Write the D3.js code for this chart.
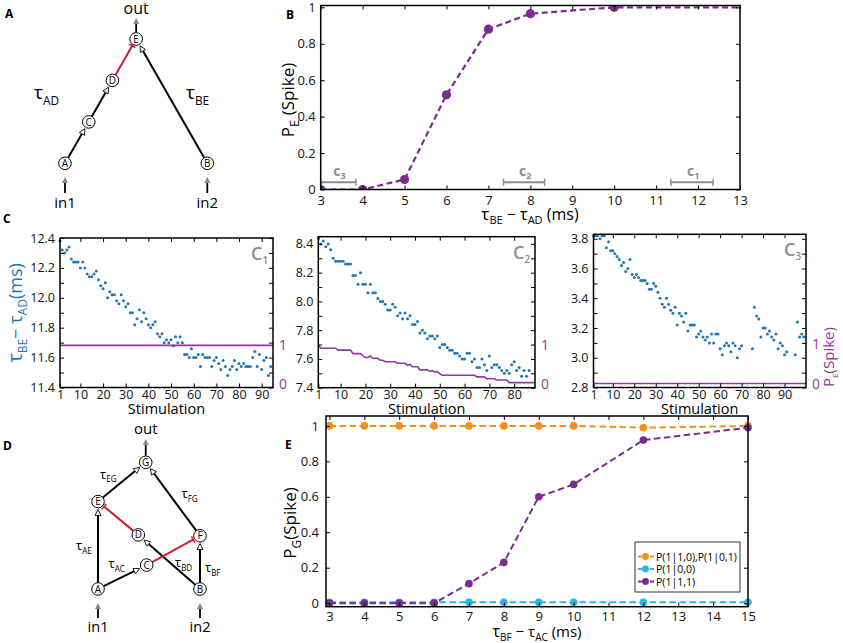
<!DOCTYPE html>
<html>
<head>
<meta charset="utf-8">
<script src="https://cdn.jsdelivr.net/npm/d3@7"></script>
<style>
  body { margin: 0; background: #fff; }
  svg text { font-family: "Open Sans", sans-serif; }
</style>
</head>
<body>
<div id="fig"></div>
<script>
// ---- panel B: P_E(spike) against delay difference
const bDelay = [3, 4, 5, 6, 7, 8, 10, 14];
const bProb = [0.0, 0.0, 0.055, 0.52, 0.88, 0.965, 1.0, 1.0];
const bBracketName = ["3", "2", "1"];
const bBracketFrom = [3.0, 7.36, 11.35];
const bBracketTo = [3.84, 8.34, 12.36];
const bXTicks = [3, 4, 5, 6, 7, 8, 9, 10, 11, 12, 13];
const bYTicks = [0, 0.2, 0.4, 0.6, 0.8, 1];

// ---- panel C: delay difference per stimulation (blue) and P_E (purple)
const c1Delay = [12.38,12.32,12.30,12.32,12.34,12.26,12.24,12.24,12.24,12.20,
  12.24,12.20,12.16,12.14,12.14,12.16,12.18,12.12,12.08,12.06,
  12.10,12.00,12.04,12.02,12.02,11.98,11.96,12.02,11.98,11.94,
  11.96,11.90,11.90,11.82,11.86,11.92,11.84,11.90,11.86,11.82,
  11.80,11.82,11.84,11.76,11.74,11.76,11.70,11.72,11.70,11.72,
  11.68,11.74,11.70,11.74,11.70,11.62,11.62,11.60,11.66,11.60,
  11.60,11.62,11.54,11.62,11.60,11.60,11.60,11.54,11.58,11.60,
  11.56,11.52,11.58,11.54,11.48,11.52,11.54,11.58,11.52,11.56,
  11.54,11.56,11.54,11.54,11.54,11.60,11.64,11.54,11.62,11.52,
  11.58,11.60,11.48,11.54];
const c1ProbStim = [1, 95];
const c1Prob = [1, 1];

const c2Delay = [8.44,8.40,8.42,8.38,8.40,8.36,8.30,8.28,8.28,8.28,
  8.28,8.26,8.26,8.26,8.18,8.18,8.12,8.20,8.12,8.12,
  8.06,8.12,8.06,8.06,8.02,8.00,8.00,7.98,7.94,7.94,
  7.98,7.96,7.90,7.92,7.88,7.92,7.88,7.90,7.84,7.84,
  7.86,7.78,7.80,7.78,7.74,7.76,7.76,7.74,7.76,7.68,
  7.70,7.70,7.68,7.66,7.66,7.64,7.64,7.62,7.60,7.60,
  7.64,7.64,7.58,7.60,7.54,7.54,7.60,7.56,7.52,7.62,
  7.54,7.56,7.56,7.54,7.52,7.50,7.52,7.50,7.56,7.58,
  7.52,7.54,7.48,7.52,7.48,7.52];
// one value per stimulation 1..88
const c2Prob = [1.00,0.92,0.92,0.92,0.92,0.92,0.92,0.92,0.87,0.87,
  0.87,0.87,0.87,0.87,0.78,0.78,0.78,0.78,0.72,0.68,
  0.68,0.72,0.66,0.66,0.66,0.61,0.61,0.57,0.57,0.57,
  0.57,0.57,0.53,0.53,0.53,0.53,0.48,0.50,0.44,0.44,
  0.44,0.36,0.36,0.36,0.36,0.32,0.34,0.30,0.32,0.26,
  0.22,0.22,0.22,0.22,0.22,0.22,0.22,0.22,0.22,0.22,
  0.22,0.22,0.22,0.22,0.18,0.18,0.18,0.18,0.13,0.13,
  0.13,0.13,0.10,0.10,0.10,0.10,0.10,0.03,0.03,0.03,
  0.03,0.03,0.03,0.03,0.03,0.03,0.03,0.03];

const c3Delay = [3.82,3.82,3.82,3.80,3.82,3.82,3.74,3.78,3.72,3.72,
  3.70,3.68,3.66,3.62,3.64,3.58,3.60,3.66,3.56,3.54,
  3.56,3.54,3.52,3.52,3.52,3.50,3.46,3.46,3.50,3.48,
  3.44,3.40,3.36,3.34,3.40,3.36,3.32,3.30,3.34,3.22,
  3.30,3.28,3.24,3.30,3.18,3.22,3.22,3.22,3.14,3.16,
  3.18,3.14,3.12,3.14,3.10,3.16,3.10,3.16,3.16,3.06,
  3.02,3.08,3.10,3.08,3.04,3.10,3.08,3.00,3.06,3.08,
  null,null,null,null,3.06,3.34,3.28,3.26,3.14,3.20,
  3.20,3.16,3.18,3.14,3.12,3.16,3.06,3.10,3.08,3.02,
  3.04,null,null,null,3.02,3.24,3.14,3.16,3.14];
const c3ProbStim = [1, 100];
const c3Prob = [0, 0];

const cStimTicks = [1, 10, 20, 30, 40, 50, 60, 70, 80, 90];

// ---- panel E: P_G(spike) for the three input patterns
const eDelay = [3, 4, 5, 6, 7, 8, 9, 10, 12, 15];
const eOne = [1, 1, 1, 1, 1, 1, 1, 1, 0.99, 1.0];
const eNone = [0.005, 0.005, 0.005, 0.005, 0.005, 0.005, 0.005, 0.005, 0.005, 0.005];
const eBoth = [0, 0, 0, 0, 0.11, 0.23, 0.60, 0.67, 0.92, 0.99];
const eNames = ["P(1|1,0),P(1|0,1)", "P(1|0,0)", "P(1|1,1)"];
const eXTicks = [3, 4, 5, 6, 7, 8, 9, 10, 11, 12, 13, 14, 15];

const PURPLE = "#7b2d8e";
const ORANGE = "#f5901f";
const CYAN = "#2bb4e2";
const BLUE = "#1f77b4";
const LINEPURPLE = "#8e3a9f";
const RED = "#cc1f2f";
const GREY = "#8c8c8c";

const svg = d3.select("#fig").append("svg")
    .attr("width", 843)
    .attr("height", 643);

// text with subscript pieces: {t, s (size), dy (offset)}
function rich(sel, parts, size) {
    let shift = 0;
    parts.forEach(p => {
        const ts = sel.append("tspan").text(p.t).attr("font-size", p.s || size);
        const off = (p.dy || 0) - shift;
        if (off) ts.attr("dy", off);
        shift = p.dy || 0;
    });
    return sel;
}

// boxed plot with inward ticks on all four sides
function frame(g, x, y, o) {
    const [xl, xr] = x.range();
    const [yb, yt] = y.range();
    const [d0, d1] = x.domain();
    const xTicks = o.xTicks.filter(t => t >= d0 && t <= d1);
    const ax = g.append("g");
    ax.append("g").attr("transform", `translate(0,${yb})`)
        .call(d3.axisBottom(x).tickValues(xTicks).tickSize(-4).tickPadding(o.xPad)
            .tickFormat(o.xFormat || d3.format("d")));
    ax.append("g").attr("transform", `translate(0,${yt})`)
        .call(d3.axisTop(x).tickValues(xTicks).tickSize(-4).tickFormat(""));
    ax.append("g").attr("transform", `translate(${xl},0)`)
        .call(d3.axisLeft(y).tickValues(o.yTicks).tickSize(-4).tickPadding(o.yPad)
            .tickFormat(o.yFormat));
    ax.append("g").attr("transform", `translate(${xr},0)`)
        .call(d3.axisRight(y).tickValues(o.yTicks).tickSize(-4).tickFormat(""));
    ax.selectAll(".domain").remove();
    ax.selectAll("line").attr("stroke", "#000").attr("stroke-width", 1);
    ax.selectAll("text")
        .attr("font-family", "'Open Sans', sans-serif")
        .attr("font-size", o.fontSize)
        .attr("fill", "#111");
    g.append("rect")
        .attr("x", xl).attr("y", yt)
        .attr("width", xr - xl).attr("height", yb - yt)
        .attr("fill", "none")
        .attr("stroke", "#000")
        .attr("stroke-width", 1.5);
}

function panelLetter(txt, x, y) {
    svg.append("text").attr("x", x).attr("y", y).text(txt)
        .attr("font-family", "'Liberation Sans', Arial, sans-serif")
        .attr("font-weight", "bold").attr("font-size", 12);
}

// ---------------- Panel B ----------------
{
    const x = d3.scaleLinear().domain([3, 13]).range([320.7, 740]);
    const y = d3.scaleLinear().domain([0, 1.01]).range([189.5, 5.5]);
    const g = svg.append("g");

    svg.append("clipPath").attr("id", "clipB")
        .append("rect").attr("x", 320.7).attr("y", 5.5).attr("width", 419.3).attr("height", 184);

    // gray brackets with c labels
    const br = g.selectAll(".bracket").data(bBracketName).enter().append("g");
    br.append("line")
        .attr("x1", (d, i) => x(bBracketFrom[i])).attr("x2", (d, i) => x(bBracketTo[i]))
        .attr("y1", y(0.04)).attr("y2", y(0.04))
        .attr("stroke", GREY).attr("stroke-width", 2);
    br.append("line")
        .attr("x1", (d, i) => x(bBracketFrom[i])).attr("x2", (d, i) => x(bBracketFrom[i]))
        .attr("y1", y(0.04) - 3.5).attr("y2", y(0.04) + 3.5)
        .attr("stroke", GREY).attr("stroke-width", 1.5);
    br.append("line")
        .attr("x1", (d, i) => x(bBracketTo[i])).attr("x2", (d, i) => x(bBracketTo[i]))
        .attr("y1", y(0.04) - 3.5).attr("y2", y(0.04) + 3.5)
        .attr("stroke", GREY).attr("stroke-width", 1.5);
    br.each(function (d, i) {
        const t = d3.select(this).append("text")
            .attr("x", (x(bBracketFrom[i]) + x(bBracketTo[i])) / 2 - 5)
            .attr("y", y(0.04) - 6)
            .attr("fill", GREY).attr("font-weight", "bold");
        rich(t, [{ t: "c" }, { t: d, s: 9, dy: 3 }], 14);
    });

    const plot = g.append("g").attr("clip-path", "url(#clipB)");
    plot.append("path")
        .datum(bDelay.map((d, i) => [d, bProb[i]]))
        .attr("d", d3.line().x(d => x(d[0])).y(d => y(d[1])))
        .attr("fill", "none").attr("stroke", PURPLE)
        .attr("stroke-width", 2.2).attr("stroke-dasharray", "6,3.5");
    plot.selectAll("circle").data(bDelay).enter().append("circle")
        .attr("cx", d => x(d)).attr("cy", (d, i) => y(bProb[i]))
        .attr("r", 4.6).attr("fill", PURPLE);

    frame(g, x, y, {
        xTicks: bXTicks, yTicks: bYTicks, xPad: 6, yPad: 5, fontSize: 13,
        yFormat: d3.format("~g")
    });

    const yl = g.append("text")
        .attr("transform", "translate(294,100) rotate(-90)")
        .attr("text-anchor", "middle");
    rich(yl, [{ t: "P" }, { t: "E", s: 13, dy: 5 }, { t: " (Spike)" }], 17);

    const xl = g.append("text").attr("x", 530).attr("y", 220).attr("text-anchor", "middle");
    rich(xl, [{ t: "τ", s: 17 }, { t: "BE", s: 11, dy: 4 }, { t: " − τ", s: 16 },
        { t: "AD", s: 11, dy: 4 }, { t: " (ms)", s: 16 }], 16);

    panelLetter("B", 286, 19);
}

// ---------------- Panel C ----------------
function stimPanel(o) {
    const g = svg.append("g");
    const x = d3.scaleLinear().domain(o.xDomain).range(o.xRange);
    const y = d3.scaleLinear().domain(o.yDomain).range(o.yRange);
    // right-hand P_E scale shares the plot box
    const yp = d3.scaleLinear().domain([-0.1, 3.8]).range(o.yRange);

    const pts = o.delay.map((d, i) => [i + 1, d]).filter(d => d[1] !== null);
    g.selectAll("circle.dot").data(pts).enter().append("circle")
        .attr("class", "dot")
        .attr("cx", d => x(d[0])).attr("cy", d => y(d[1]))
        .attr("r", 1.5).attr("fill", BLUE);

    const stims = o.probStim || o.prob.map((p, i) => i + 1);
    g.append("path")
        .datum(stims.map((s, i) => [s, o.prob[i]]))
        .attr("d", d3.line().x(d => x(d[0])).y(d => yp(d[1])))
        .attr("fill", "none").attr("stroke", LINEPURPLE).attr("stroke-width", 1.6);

    const yTicks = d3.range(0, 11).map(k => +(o.yDomain[0] + k * 0.1).toFixed(1));
    frame(g, x, y, {
        xTicks: cStimTicks, yTicks: yTicks, xPad: 2.5, yPad: 5, fontSize: 12.5,
        yFormat: d => (Math.round(d * 10) % 2 === 0 ? d3.format(".1f")(d) : "")
    });

    const r = g.append("g").attr("transform", `translate(${o.xRange[1]},0)`)
        .call(d3.axisRight(yp).tickValues([0, 1]).tickSize(0).tickPadding(6).tickFormat(d3.format("d")));
    r.select(".domain").remove();
    r.selectAll("text").attr("fill", LINEPURPLE).attr("font-size", 14)
        .attr("font-family", "'Open Sans', sans-serif");

    const tt = g.append("text")
        .attr("x", o.xRange[1] - 22).attr("y", o.yRange[1] + 22)
        .attr("fill", GREY).attr("font-weight", 600);
    rich(tt, [{ t: "C" }, { t: o.name, s: 10, dy: 4 }], 18);

    g.append("text")
        .attr("x", (o.xRange[0] + o.xRange[1]) / 2).attr("y", 413.5)
        .attr("text-anchor", "middle").attr("font-size", 14.5)
        .text("Stimulation");
}

stimPanel({
    name: "1", delay: c1Delay, probStim: c1ProbStim, prob: c1Prob,
    xDomain: [1, 95], xRange: [60, 273], yDomain: [11.4, 12.4], yRange: [387.5, 238]
});
stimPanel({
    name: "2", delay: c2Delay, probStim: null, prob: c2Prob,
    xDomain: [1, 88.4], xRange: [318.3, 535], yDomain: [7.4, 8.45], yRange: [387.7, 236.7]
});
stimPanel({
    name: "3", delay: c3Delay, probStim: c3ProbStim, prob: c3Prob,
    xDomain: [1, 100], xRange: [593.5, 806], yDomain: [2.8, 3.83], yRange: [387.5, 234.3]
});

{
    const yl = svg.append("text")
        .attr("transform", "translate(22,313) rotate(-90)")
        .attr("text-anchor", "middle").attr("fill", BLUE);
    rich(yl, [{ t: "τ", s: 20 }, { t: "BE", s: 12, dy: 5 }, { t: "− τ", s: 18 },
        { t: "AD", s: 12, dy: 5 }, { t: "(ms)", s: 18 }], 18);

    const yr = svg.append("text")
        .attr("transform", "translate(834,357) rotate(-90)")
        .attr("text-anchor", "middle").attr("fill", LINEPURPLE);
    rich(yr, [{ t: "P", s: 15 }, { t: "E", s: 8, dy: 4 }, { t: "(Spike)", s: 15 }], 15);

    panelLetter("C", 3, 223);
}

// ---------------- Panel E ----------------
{
    const x = d3.scaleLinear().domain([2.9, 15]).range([326, 748]);
    const y = d3.scaleLinear().domain([-0.02, 1.056]).range([606.7, 416]);
    const g = svg.append("g");
    const series = [eOne, eNone, eBoth];
    const colors = [ORANGE, CYAN, PURPLE];

    series.forEach((vals, k) => {
        g.append("path")
            .datum(eDelay.map((d, i) => [d, vals[i]]))
            .attr("d", d3.line().x(d => x(d[0])).y(d => y(d[1])))
            .attr("fill", "none").attr("stroke", colors[k])
            .attr("stroke-width", 2).attr("stroke-dasharray", "6.5,3.5");
        g.selectAll(".m" + k).data(eDelay).enter().append("circle")
            .attr("cx", d => x(d)).attr("cy", (d, i) => y(vals[i]))
            .attr("r", 3.8).attr("fill", colors[k]);
    });

    frame(g, x, y, {
        xTicks: eXTicks, yTicks: bYTicks, xPad: 5, yPad: 7, fontSize: 13,
        yFormat: d3.format("~g")
    });

    // legend
    const lg = g.append("g").attr("transform", "translate(635,542)");
    lg.append("rect").attr("width", 105).attr("height", 50)
        .attr("fill", "#fff").attr("stroke", "#333").attr("stroke-width", 1);
    const item = lg.selectAll(".item").data(eNames).enter().append("g")
        .attr("transform", (d, i) => `translate(0,${14.5 + i * 12.5})`);
    item.append("line").attr("x1", 3).attr("x2", 19)
        .attr("stroke", (d, i) => colors[i]).attr("stroke-width", 2)
        .attr("stroke-dasharray", "4,2");
    item.append("circle").attr("cx", 10.5).attr("r", 3.4).attr("fill", (d, i) => colors[i]);
    item.append("text").attr("x", 21).attr("y", 4).attr("font-size", 10.5).text(d => d);

    const yl = g.append("text")
        .attr("transform", "translate(296,523) rotate(-90)")
        .attr("text-anchor", "middle");
    rich(yl, [{ t: "P" }, { t: "G", s: 12, dy: 5 }, { t: "(Spike)" }], 17);

    const xl = g.append("text").attr("x", 537).attr("y", 637).attr("text-anchor", "middle");
    rich(xl, [{ t: "τ", s: 16 }, { t: "BF", s: 10, dy: 3.5 }, { t: " − τ", s: 15 },
        { t: "AC", s: 10, dy: 3.5 }, { t: " (ms)", s: 15 }], 15);

    panelLetter("E", 285, 449);
}

// ---------------- network diagrams (A, D) ----------------
function drawNet(g, nodes, edges, sx, sy, r) {
    const pos = id => ({ x: sx(nodes[id][0]), y: sy(nodes[id][1]) });
    edges.forEach(([a, b, kind]) => {
        const p = pos(a), q = pos(b);
        const L = Math.hypot(q.x - p.x, q.y - p.y);
        const ux = (q.x - p.x) / L, uy = (q.y - p.y) / L;
        const nx = -uy, ny = ux;
        const s0 = [p.x + ux * r, p.y + uy * r];
        if (kind === "exc") {
            const tip = [q.x - ux * (r + 1.5), q.y - uy * (r + 1.5)];
            const base = [tip[0] - ux * 6, tip[1] - uy * 6];
            g.append("line").attr("x1", s0[0]).attr("y1", s0[1])
                .attr("x2", base[0]).attr("y2", base[1])
                .attr("stroke", "#000").attr("stroke-width", 2);
            g.append("path")
                .attr("d", d3.line()([tip, [base[0] + nx * 3, base[1] + ny * 3], [base[0] - nx * 3, base[1] - ny * 3]]) + "Z")
                .attr("fill", "#fff").attr("stroke", "#000").attr("stroke-width", 0.9);
        } else {
            const end = [q.x - ux * (r + 1.5), q.y - uy * (r + 1.5)];
            g.append("line").attr("x1", s0[0]).attr("y1", s0[1])
                .attr("x2", end[0]).attr("y2", end[1])
                .attr("stroke", RED).attr("stroke-width", 2);
            g.append("line")
                .attr("x1", end[0] + nx * 3.5).attr("y1", end[1] + ny * 3.5)
                .attr("x2", end[0] - nx * 3.5).attr("y2", end[1] - ny * 3.5)
                .attr("stroke", RED).attr("stroke-width", 1.5);
        }
    });
    Object.keys(nodes).forEach(id => {
        const p = pos(id);
        g.append("circle").attr("cx", p.x).attr("cy", p.y).attr("r", r)
            .attr("fill", "#fff").attr("stroke", "#000").attr("stroke-width", 1);
        g.append("text").attr("x", p.x).attr("y", p.y + 3.6)
            .attr("text-anchor", "middle").attr("font-size", 10).text(id);
    });
}

function ioArrow(g, x, yFrom, yTip) {
    g.append("line").attr("x1", x).attr("x2", x).attr("y1", yFrom).attr("y2", yTip + 4)
        .attr("stroke", "#000").attr("stroke-width", 1.8);
    g.append("path")
        .attr("d", `M${x},${yTip}L${x - 3},${yTip + 6}L${x + 3},${yTip + 6}Z`)
        .attr("fill", "#888");
}

function tauLabel(g, x, y, sub, size) {
    const t = g.append("text").attr("x", x).attr("y", y);
    rich(t, [{ t: "τ", s: size }, { t: sub, s: size * 0.62, dy: size * 0.3 }], size);
}

// Panel A
{
    const g = svg.append("g");
    const sx = d3.scaleLinear().domain([0, 10]).range([65, 207.3]);
    const sy = d3.scaleLinear().domain([0, 10]).range([163.3, 39]);
    const nodes = { A: [0, 0], B: [10, 0], C: [1.67, 3.33], D: [3.33, 6.67], E: [5, 10] };
    const edges = [["A", "C", "exc"], ["C", "D", "exc"], ["D", "E", "inh"], ["B", "E", "exc"]];
    drawNet(g, nodes, edges, sx, sy, 6.3);
    ioArrow(g, sx(5), 32.5, 18);
    ioArrow(g, sx(0), 193, 177);
    ioArrow(g, sx(10), 193, 177);
    g.append("text").attr("x", sx(5)).attr("y", 14).attr("text-anchor", "middle").attr("font-size", 16).text("out");
    g.append("text").attr("x", sx(0)).attr("y", 208).attr("text-anchor", "middle").attr("font-size", 15).text("in1");
    g.append("text").attr("x", sx(10)).attr("y", 208).attr("text-anchor", "middle").attr("font-size", 15).text("in2");
    tauLabel(g, 34, 99, "AD", 19);
    tauLabel(g, 186, 99, "BE", 19);
    panelLetter("A", 5, 18);
}

// Panel D
{
    const g = svg.append("g");
    const sx = d3.scaleLinear().domain([0, 10]).range([98, 200]);
    const sy = d3.scaleLinear().domain([0, 10]).range([589, 462.3]);
    const nodes = {
        G: [4.68, 10], E: [0, 6.9], D: [3.95, 4.27], F: [10, 4.2],
        C: [4.77, 1.89], A: [0, 0], B: [10, 0]
    };
    const edges = [["A", "E", "exc"], ["E", "G", "exc"], ["F", "G", "exc"], ["A", "C", "exc"],
        ["B", "D", "exc"], ["B", "F", "exc"], ["D", "E", "inh"], ["C", "F", "inh"]];
    drawNet(g, nodes, edges, sx, sy, 6.3);
    ioArrow(g, sx(4.68), 455.5, 439);
    ioArrow(g, sx(0), 618, 603);
    ioArrow(g, sx(10), 618, 603);
    g.append("text").attr("x", sx(4.68)).attr("y", 434).attr("text-anchor", "middle").attr("font-size", 15).text("out");
    g.append("text").attr("x", sx(0)).attr("y", 631.5).attr("text-anchor", "middle").attr("font-size", 14.5).text("in1");
    g.append("text").attr("x", sx(10)).attr("y", 631.5).attr("text-anchor", "middle").attr("font-size", 14.5).text("in2");
    tauLabel(g, 100, 478.5, "EG", 13);
    tauLabel(g, 181.5, 498, "FG", 13);
    tauLabel(g, 76, 550, "AE", 13);
    tauLabel(g, 108.5, 568, "AC", 13);
    tauLabel(g, 175, 567, "BD", 13);
    tauLabel(g, 205, 572, "BF", 13);
    panelLetter("D", 3, 450);
}
</script>
</body>
</html>
